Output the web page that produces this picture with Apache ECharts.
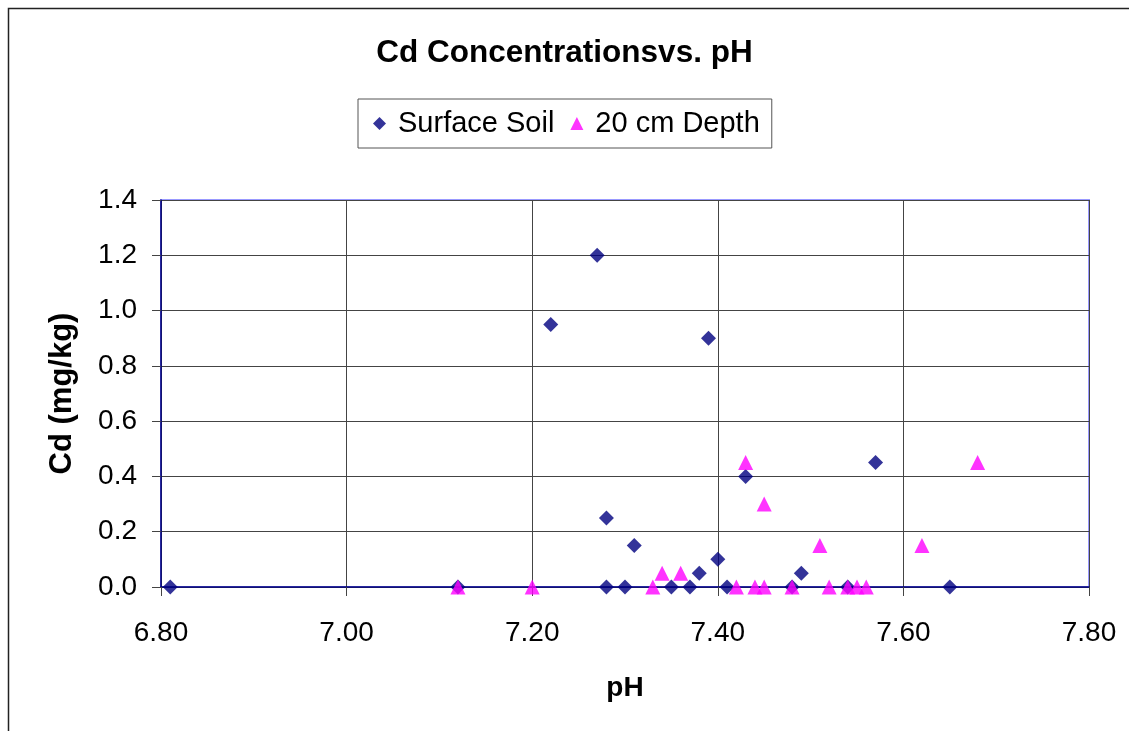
<!DOCTYPE html>
<html>
<head>
<meta charset="utf-8">
<script src="https://cdn.jsdelivr.net/npm/echarts@6/dist/echarts.min.js"></script>
<style>
html,body{margin:0;padding:0;background:#fff;}
#chart{width:1129px;height:731px;}
</style>
</head>
<body>
<div id="chart"></div>
<script>
const surfaceSoil = [
  [6.81,0],[7.12,0],[7.22,0.95],[7.27,1.2],[7.28,0.25],[7.28,0],[7.30,0],[7.31,0.15],
  [7.35,0],[7.37,0],[7.38,0.05],[7.39,0.9],[7.40,0.10],[7.41,0],[7.43,0.40],[7.48,0],
  [7.49,0.05],[7.54,0],[7.57,0.45],[7.65,0]
];
const depth20 = [
  [7.12,0],[7.20,0],[7.33,0],[7.34,0.05],[7.36,0.05],[7.42,0],[7.43,0.45],[7.44,0],
  [7.45,0],[7.45,0.30],[7.48,0],[7.51,0.15],[7.52,0],[7.54,0],[7.55,0],[7.56,0],
  [7.62,0.15],[7.68,0.45]
];
const seriesNames = ['Surface Soil','20 cm Depth'];
const titleText = 'Cd Concentrationsvs. pH';
const xName = 'pH';
const yName = 'Cd (mg/kg)';

const FONT = '"Liberation Sans", Arial, sans-serif';
const chart = echarts.init(document.getElementById('chart'));
chart.setOption({
  backgroundColor: '#fff',
  animation: false,
  graphic: [{
    type: 'rect', left: 6, top: 6,
    shape: { width: 1140, height: 740 },
    style: { fill: 'none', stroke: '#222', lineWidth: 1.5 },
    silent: true, z: -1
  }],
  title: {
    text: titleText, left: 'center', top: 32,
    textStyle: { fontFamily: FONT, fontSize: 31.5, fontWeight: 'bold', color: '#000' }
  },
  legend: {
    left: 358, top: 99,
    padding: [10, 12, 10, 15],
    borderColor: '#555', borderWidth: 1,
    itemWidth: 13, itemHeight: 13, itemGap: 16,
    textStyle: { fontFamily: FONT, fontSize: 29, color: '#000', padding: [0, 0, 0, 7] },
    data: [
      { name: seriesNames[0], icon: 'diamond' },
      { name: seriesNames[1], icon: 'triangle' }
    ]
  },
  grid: {
    left: 161, top: 200, width: 928, height: 387,
    show: true, borderColor: '#9999ff', borderWidth: 2, backgroundColor: 'transparent'
  },
  xAxis: {
    type: 'value', min: 6.8, max: 7.8, interval: 0.2,
    name: xName, nameLocation: 'middle', nameGap: 87,
    nameTextStyle: { fontFamily: FONT, fontSize: 28, fontWeight: 'bold', color: '#000' },
    axisLine: { show: true, onZero: false, lineStyle: { color: '#000080', width: 1.5 } },
    axisTick: { show: true, inside: false, length: 9, lineStyle: { color: '#444', width: 1 } },
    axisLabel: { fontFamily: FONT, fontSize: 28, color: '#000', margin: 32, formatter: v => v.toFixed(2) },
    splitLine: { show: true, lineStyle: { color: '#444', width: 1 } }
  },
  yAxis: {
    type: 'value', min: 0, max: 1.4, interval: 0.2,
    name: yName, nameLocation: 'middle', nameGap: 83, nameRotate: 90,
    nameTextStyle: { fontFamily: FONT, fontSize: 31, fontWeight: 'bold', color: '#000' },
    axisLine: { show: true, lineStyle: { color: '#000080', width: 1.5 } },
    axisTick: { show: true, inside: false, length: 9, lineStyle: { color: '#444', width: 1 } },
    axisLabel: { fontFamily: FONT, fontSize: 28, color: '#000', margin: 24, formatter: v => v.toFixed(1) },
    splitLine: { show: true, lineStyle: { color: '#444', width: 1 } }
  },
  series: [
    {
      name: seriesNames[0], type: 'scatter', data: surfaceSoil,
      symbol: 'diamond', symbolSize: 15,
      itemStyle: { color: '#000080' }, z: 3
    },
    {
      name: seriesNames[1], type: 'scatter', data: depth20,
      symbol: 'triangle', symbolSize: 15,
      itemStyle: { color: '#ff00ff' }, z: 4
    }
  ]
});
</script>
</body>
</html>
